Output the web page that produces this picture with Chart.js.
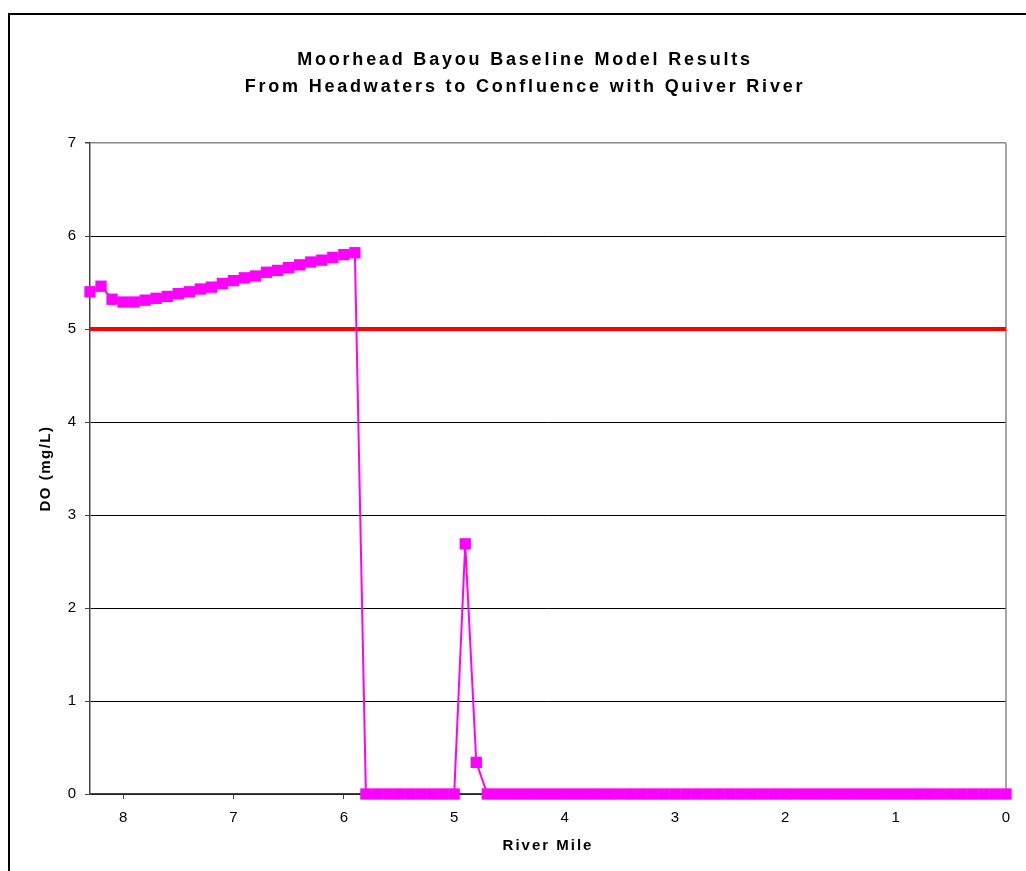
<!DOCTYPE html>
<html>
<head>
<meta charset="utf-8">
<script src="https://cdn.jsdelivr.net/npm/chart.js@4/dist/chart.umd.min.js"></script>
<style>
  html, body { margin: 0; padding: 0; background: #fff; }
  #wrap { position: relative; width: 1026px; height: 871px; }
</style>
</head>
<body>
<div id="wrap"><canvas id="chart_do" width="1026" height="871"></canvas></div>
<script>
// river mile of each model element (headwaters -> confluence)
var riverMile = [8.3, 8.2, 8.1, 8.0, 7.9, 7.8, 7.7, 7.6, 7.5, 7.4, 7.3, 7.2, 7.1, 7.0,
  6.9, 6.8, 6.7, 6.6, 6.5, 6.4, 6.3, 6.2, 6.1, 6.0, 5.9, 5.8, 5.7, 5.6, 5.5, 5.4,
  5.3, 5.2, 5.1, 5.0, 4.9, 4.8, 4.7, 4.6, 4.5, 4.4, 4.3, 4.2, 4.1, 4.0, 3.9, 3.8,
  3.7, 3.6, 3.5, 3.4, 3.3, 3.2, 3.1, 3.0, 2.9, 2.8, 2.7, 2.6, 2.5, 2.4, 2.3, 2.2,
  2.1, 2.0, 1.9, 1.8, 1.7, 1.6, 1.5, 1.4, 1.3, 1.2, 1.1, 1.0, 0.9, 0.8, 0.7, 0.6,
  0.5, 0.4, 0.3, 0.2, 0.1, 0.0]

// modelled dissolved oxygen (mg/L)
var doValues = [5.40, 5.46, 5.32, 5.29, 5.29, 5.31, 5.33, 5.35, 5.38, 5.40, 5.43, 5.45, 5.49, 5.52,
  5.55, 5.57, 5.61, 5.63, 5.66, 5.69, 5.72, 5.74, 5.77, 5.80, 5.82, 0, 0, 0, 0, 0,
  0, 0, 0, 0, 2.69, 0.34, 0, 0, 0, 0, 0, 0, 0, 0, 0, 0,
  0, 0, 0, 0, 0, 0, 0, 0, 0, 0, 0, 0, 0, 0, 0, 0,
  0, 0, 0, 0, 0, 0, 0, 0, 0, 0, 0, 0, 0, 0, 0, 0,
  0, 0, 0, 0, 0, 0]

// DO criterion
var criterionMile = [8.3, 0]
var criterionValue = [5, 5]

var titleLines = ["Moorhead Bayou Baseline Model Results", "From Headwaters to Confluence with Quiver River"]
var xTitle = "River Mile"
var yTitle = "DO (mg/L)"

// wider letter spacing like the original export
function spaced(scale, px){
  if (scale._sp) return
  scale._sp = true
  var dt = scale.drawTitle, dl = scale.drawLabels
  scale.drawTitle = function(){
    var prev = this.ctx.letterSpacing
    this.ctx.letterSpacing = px
    dt.apply(this, arguments)
    this.ctx.letterSpacing = prev
  }
  scale.drawLabels = function(){
    var prev = this.ctx.letterSpacing
    this.ctx.letterSpacing = '0px'
    dl.apply(this, arguments)
    this.ctx.letterSpacing = prev
  }
}

var frame = {
  id: 'frame',
  beforeDraw: function(chart){
    var ctx = chart.ctx
    ctx.save()
    ctx.fillStyle = '#fff'
    ctx.fillRect(0, 0, chart.width, chart.height)
    ctx.strokeStyle = '#000'
    ctx.lineWidth = 2
    ctx.beginPath()
    ctx.moveTo(9, chart.height + 5)
    ctx.lineTo(9, 14)
    ctx.lineTo(chart.width + 5, 14)
    ctx.stroke()
    ctx.restore()
    ctx.letterSpacing = '2.8px'
  },
  beforeDatasetsDraw: function(chart){
    var a = chart.chartArea, ctx = chart.ctx
    ctx.save()
    ctx.strokeStyle = '#888'
    ctx.lineWidth = 1.5
    ctx.beginPath()
    ctx.moveTo(a.right, a.top)
    ctx.lineTo(a.right, a.bottom)
    ctx.stroke()
    ctx.restore()
  }
}

var ctx = document.getElementById("chart_do")
var myChart = new Chart(ctx, {
  type: 'line',
  data: {
    datasets: [{
      label: 'Criterion',
      data: criterionMile.map(function(m, i){ return {x: m, y: criterionValue[i]} }),
      borderColor: '#ff0000',
      borderWidth: 4,
      pointRadius: 0,
      clip: false,
      order: 2
    }, {
      label: 'DO',
      data: riverMile.map(function(m, i){ return {x: m, y: doValues[i]} }),
      borderColor: '#ff00ff',
      borderWidth: 2,
      pointStyle: 'rect',
      pointRadius: 8,
      pointBorderWidth: 0,
      pointBackgroundColor: '#ff00ff',
      tension: 0,
      clip: false,
      order: 1
    }]
  },
  options: {
    responsive: false,
    animation: false,
    events: [],
    layout: { padding: { top: 0, left: 24, right: 0, bottom: 0 } },
    plugins: {
      legend: { display: false },
      tooltip: { enabled: false },
      title: {
        display: true,
        text: titleLines,
        color: '#000',
        font: { family: 'Liberation Sans, Arial, sans-serif', size: 18, weight: 'bold', lineHeight: 1.5 },
        padding: { top: 46.5, bottom: 42.5 }
      }
    },
    scales: {
      x: {
        type: 'linear',
        reverse: true,
        min: 0,
        max: 8.3,
        afterFit: function(s){ s.height = 77 },
        afterUpdate: function(s){ spaced(s, '2px') },
        ticks: {
          stepSize: 1,
          includeBounds: false,
          padding: 10,
          color: '#000',
          font: { family: 'Liberation Sans, Arial, sans-serif', size: 15 }
        },
        grid: { drawOnChartArea: false, drawTicks: true, tickLength: 5, tickColor: '#444' },
        border: { color: '#444', width: 1.5 },
        title: {
          display: true,
          text: xTitle,
          color: '#000',
          font: { family: 'Liberation Sans, Arial, sans-serif', size: 15, weight: 'bold' },
          padding: { top: 0, bottom: 16 }
        }
      },
      y: {
        min: 0,
        max: 7,
        afterFit: function(s){ s.width = 66 },
        afterUpdate: function(s){ spaced(s, '1.5px') },
        ticks: {
          stepSize: 1,
          padding: 9,
          color: '#000',
          font: { family: 'Liberation Sans, Arial, sans-serif', size: 15 }
        },
        grid: {
          color: function(c){ return c.tick && c.tick.value === 7 ? '#888' : '#000' },
          lineWidth: function(c){ return c.tick && c.tick.value === 7 ? 1.5 : 1 },
          tickLength: 5,
          tickColor: '#444'
        },
        border: { color: '#444', width: 1.5 },
        title: {
          display: true,
          text: yTitle,
          color: '#000',
          font: { family: 'Liberation Sans, Arial, sans-serif', size: 15, weight: 'bold' },
          padding: { top: 13, bottom: 0 }
        }
      },
      // empty right-hand strip so the title centres like the original
      yRight: {
        position: 'right',
        min: 0,
        max: 7,
        afterFit: function(s){ s.width = 20 },
        ticks: { display: false },
        grid: { display: false },
        border: { display: false }
      }
    }
  },
  plugins: [frame]
})
</script>
</body>
</html>
